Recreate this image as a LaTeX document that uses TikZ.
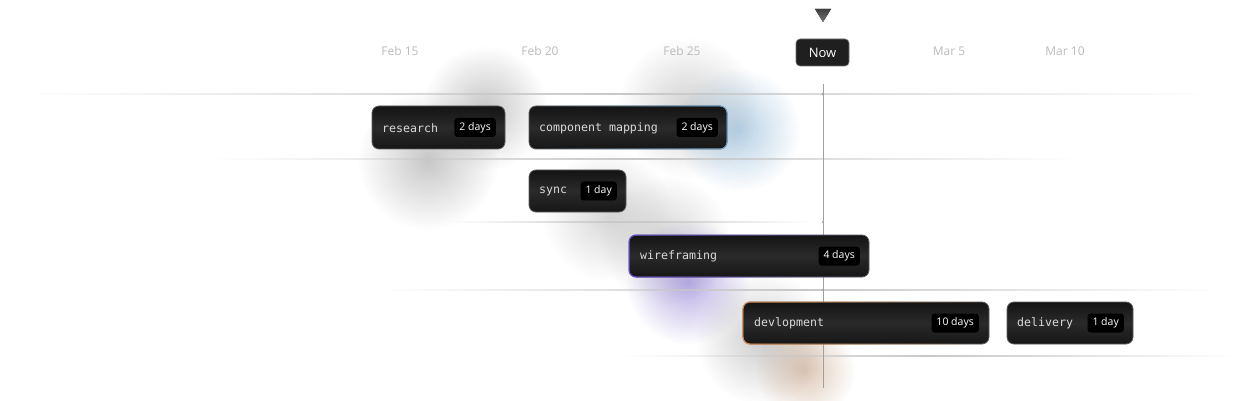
\documentclass[tikz,border=0pt]{standalone}
\usepackage{fontspec}
\setmainfont{Open Sans}
\newfontfamily\monof{DejaVu Sans Mono}
\usetikzlibrary{fadings}
\tikzfading[name=fadeends, left color=transparent!100, right color=transparent!100, middle color=transparent!0]
\tikzfading[name=softglow, inner color=transparent!0, outer color=transparent!100]
\definecolor{bartop}{HTML}{141414}
\definecolor{barmid}{HTML}{2A2A2A}
\definecolor{barbot}{HTML}{161616}
\definecolor{barline}{HTML}{5C5C5C}
\definecolor{labelc}{HTML}{D9D9D9}
\definecolor{datec}{HTML}{BBBBBB}
\definecolor{gridc}{HTML}{C8C8C8}
\definecolor{nowline}{HTML}{A0A0A0}
\definecolor{bluec}{HTML}{6FA3CC}
\definecolor{purplec}{HTML}{6E4FE0}
\definecolor{orangec}{HTML}{D88A4A}
\tikzset{
  taskbar/.style={rectangle, rounded corners=7pt, inner sep=0pt, outer sep=0pt, anchor=north west,
    top color=bartop, bottom color=barbot, middle color=barmid, draw=barline, line width=0.8pt},
  tasklabel/.style={anchor=west, inner sep=0pt, text=labelc, font=\monof\fontsize{11.6}{13}\selectfont},
  badge/.style={anchor=east, fill=black, rounded corners=3pt, inner xsep=5pt, inner ysep=0pt,
    minimum height=19pt, text=white, font=\fontsize{10.5}{12}\selectfont},
  datelabel/.style={text=datec, font=\fontsize{12}{14}\selectfont, inner sep=0pt},
  blob/.style={path fading=softglow},
  gridline/.style={fill=gridc, path fading=fadeends}
}
\begin{document}
\begin{tikzpicture}[x=1pt,y=-1pt]
\useasboundingbox (0,0) rectangle (1243,401);
\fill[white] (0,0) rectangle (1243,401);

% soft glows
\fill[gray!80, fill opacity=0.55, blob] (428,160) circle (70);
\fill[gray!80, fill opacity=0.55, blob] (485,108) circle (62);
\fill[gray!70, fill opacity=0.50, blob] (688,108) circle (70);
\fill[bluec, fill opacity=0.50, blob] (738,130) circle (62);
\fill[gray!70, fill opacity=0.45, blob] (608,215) circle (65);
\fill[gray!70, fill opacity=0.45, blob] (665,240) circle (65);
\fill[purplec!75!gray, fill opacity=0.50, blob] (688,282) circle (62);
\fill[gray!80, fill opacity=0.50, blob] (762,338) circle (66);
\fill[orangec!60!gray, fill opacity=0.45, blob] (805,370) circle (50);

% grid lines
\fill[gridline] (30,93) rectangle (1205,95);
\fill[gridline] (215,158.3) rectangle (1075,159.7);
\fill[gridline] (450,221.3) rectangle (810,222.7);
\fill[gridline] (385,289.3) rectangle (1215,290.7);
\fill[gridline] (625,355.3) rectangle (1235,356.7);

% now marker
\coordinate (nowtop) at (823,84);
\coordinate (nowbot) at (823,388);
\draw[nowline, line width=0.8pt] (nowtop) -- (nowbot);
\fill[nowline] (823,94) circle (1.3);
\fill[nowline] (823,222) circle (1.1);
\fill[nowline] (823,290) circle (1.1);
\fill[top color=black!75, bottom color=black!55] (815,9) -- (831,9) -- (823,22) -- cycle;

% date labels
\node[datelabel] (d1) at (400,51.5) {Feb 15};
\node[datelabel] (d2) at (540,51.5) {Feb 20};
\node[datelabel] (d3) at (682,51.5) {Feb 25};
\node[datelabel] (d4) at (949,51.5) {Mar 5};
\node[datelabel] (d5) at (1065,51.5) {Mar 10};
\node[fill=black!88, draw=black!55, line width=0.6pt, rounded corners=4pt, minimum width=53pt, minimum height=27pt,
  inner sep=0pt, text=white, font=\fontsize{13}{15}\selectfont] (now) at (822.5,52.5) {Now};

% bars
\node[taskbar, minimum width=133pt, minimum height=43pt] (research) at (372,106) {};
\node[taskbar, minimum width=198pt, minimum height=43pt] (compmap) at (529,106) {};
\node[taskbar, minimum width=97pt, minimum height=42pt] (sync) at (529,170) {};
\node[taskbar, minimum width=240pt, minimum height=42pt] (wire) at (629,235) {};
\node[taskbar, minimum width=246pt, minimum height=42pt] (dev) at (743,302) {};
\node[taskbar, minimum width=126pt, minimum height=42pt] (deliv) at (1007,302) {};

% coloured edges
\draw[bluec, line width=1pt, rounded corners=7pt, path fading=west] (compmap.north west) rectangle (compmap.south east);
\draw[purplec, line width=1pt, rounded corners=7pt, path fading=east] (wire.north west) rectangle (wire.south east);
\draw[orangec, line width=1pt, rounded corners=7pt, path fading=east] (dev.north west) rectangle (dev.south east);

% labels
\node[tasklabel] at ([xshift=10pt,yshift=-0.5pt]research.west) {research};
\node[tasklabel] at ([xshift=10pt,yshift=-0.5pt]compmap.west) {component mapping};
\node[tasklabel] at ([xshift=10pt,yshift=-0.5pt]sync.west) {sync};
\node[tasklabel] at ([xshift=11pt,yshift=-0.5pt]wire.west) {wireframing};
\node[tasklabel] at ([xshift=11pt,yshift=-0.5pt]dev.west) {devlopment};
\node[tasklabel] at ([xshift=10pt,yshift=-0.5pt]deliv.west) {delivery};

% badges
\node[badge] at ([xshift=-9pt]research.east) {2 days};
\node[badge] at ([xshift=-9pt]compmap.east) {2 days};
\node[badge] at ([xshift=-9pt]sync.east) {1 day};
\node[badge] at ([xshift=-9pt]wire.east) {4 days};
\node[badge] at ([xshift=-10pt]dev.east) {10 days};
\node[badge] at ([xshift=-9pt]deliv.east) {1 day};
\end{tikzpicture}
\end{document}
